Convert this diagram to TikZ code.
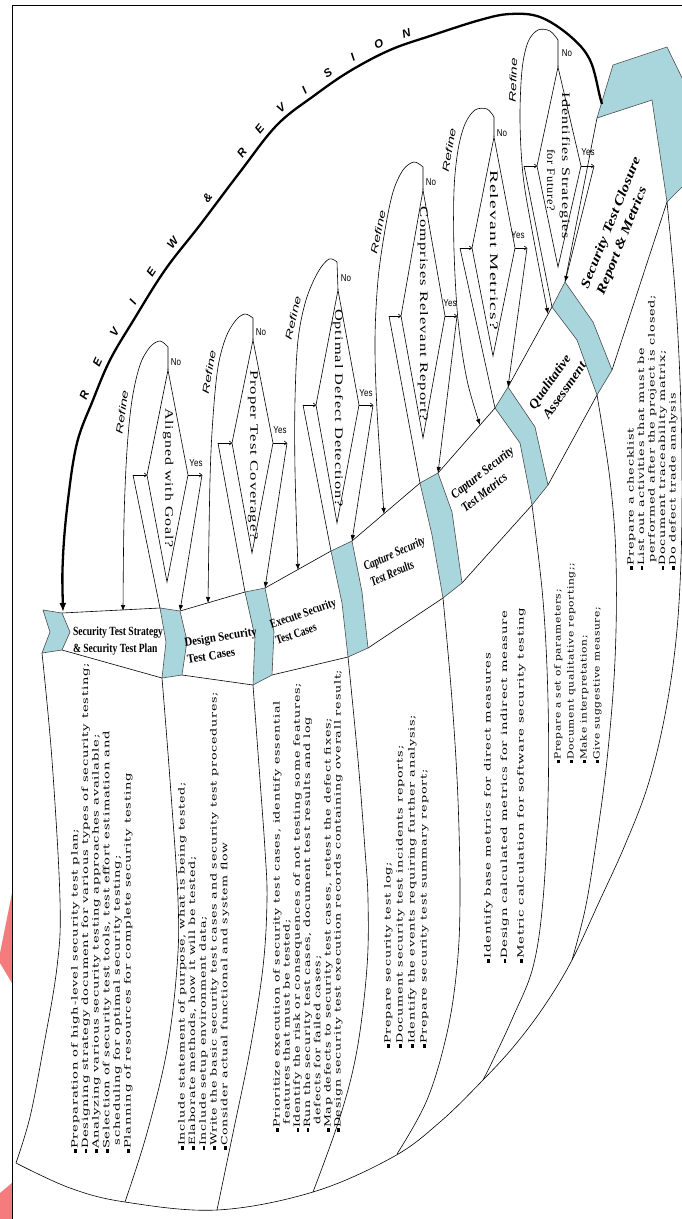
\documentclass[tikz,border=0pt]{standalone}
\usepackage{fontspec}
\usepackage{graphicx}
\setmainfont{Liberation Serif}
\newfontfamily\pfont[LetterSpace=6]{DejaVu Serif}
\newfontfamily\dfont[LetterSpace=6]{Liberation Serif}
\newfontfamily\sfont{Liberation Sans}
\usetikzlibrary{arrows.meta,decorations.markings}
\definecolor{chevblue}{HTML}{A8D6DC}
\definecolor{pinkmark}{HTML}{F47C7C}
\newcommand\bu{\raisebox{0.7pt}{\rule{2.6pt}{2.6pt}}}
\newcommand\panelbox[3]{\resizebox{#1}{\height}{\pfont\fontsize{8.6}{#2}\selectfont\begin{tabular}[t]{@{}l@{}}#3\end{tabular}}}
\newcommand\dtext[2]{\resizebox{#1}{\height}{\dfont\fontsize{11.5}{11.5}\selectfont #2}}
\newcommand\btext[4]{\resizebox{#1}{\height}{\rmfamily\bfseries#2\fontsize{#3}{17}\selectfont\begin{tabular}{@{}l@{}}#4\end{tabular}}}
\newcommand\reftext{\resizebox{44pt}{\height}{\sfont\itshape\fontsize{9.5}{9.5}\selectfont Refine}}
\newcommand\yn[1]{\scalebox{0.8}[1]{\sfont\fontsize{10}{10}\selectfont #1}}
\begin{document}
\begin{tikzpicture}[x=1pt,y=-1pt,
  ln/.style={draw=black, line width=0.6pt},
  chev/.style={fill=chevblue, draw=black!70, line width=0.6pt, line join=round},
  tip/.style={-{Latex[length=6pt,width=4.5pt]}},
  stip/.style={-{To[length=3pt,width=4.5pt]}},
  rv/.style={inner sep=0pt, font=\sfont\bfseries\itshape\fontsize{11.5}{11.5}\selectfont},
  lbl/.style={inner sep=0pt}]
\useasboundingbox (0,0) rectangle (682,1219);
\fill[white] (0,0) rectangle (682,1219);
% side marks and frame
\fill[pinkmark] (12,893) -- (0,953) -- (0,963) -- (12,983) -- cycle;
\fill[pinkmark] (12,1183) -- (0,1193) -- (0,1219) -- (12,1219) -- cycle;
\draw[line width=0.8pt] (12,1219) -- (12,5) -- (682,5);

% chevron corner coordinates
\coordinate (ch1bl) at (42,653);
\coordinate (ch2tl) at (160,608); \coordinate (ch2tr) at (180,611); \coordinate (ch2bl) at (162,678);
\coordinate (ch3tl) at (245,592); \coordinate (ch3tr) at (265,588); \coordinate (ch3bl) at (253,685);
\coordinate (ch4tl) at (331,551); \coordinate (ch4tr) at (352,541); \coordinate (ch4bl) at (348,657);
\coordinate (ch5tl) at (420,483); \coordinate (ch5tr) at (438,473); \coordinate (ch5bl) at (443,598);
\coordinate (ch6tl) at (495,408); \coordinate (ch6tr) at (508,387); \coordinate (ch6bl) at (532,505);
\coordinate (ch7tl) at (552,307); \coordinate (ch7tr) at (565,282); \coordinate (ch7bl) at (597,395);
\coordinate (fnb) at (667,202);

% panel separators
\draw[ln] plot[smooth, tension=0.6] coordinates {(ch1bl) (52,760) (60,900) (57,967) (43,1050) (30,1117) (16,1163)};
\draw[ln] plot[smooth, tension=0.6] coordinates {(16,1163) (70,1188) (125,1202) (217,1210) (313,1192) (393,1157) (440,1122) (483,1080) (515,1045) (545,1005) (572,960) (600,900) (625,845) (648,785) (665,715) (676,640) (681,560) (682,470) (680,380) (675,290) (fnb)};
\draw[ln] plot[smooth, tension=0.6] coordinates {(ch2bl) (170,780) (178,900) (177,967) (167,1050) (147,1133) (125,1202)};
\draw[ln] plot[smooth, tension=0.6] coordinates {(ch3bl) (260,780) (265,850) (267,900) (263,967) (250,1050) (233,1133) (217,1210)};
\draw[ln] plot[smooth, tension=0.6] coordinates {(ch4bl) (358,760) (365,850) (368,900) (367,967) (357,1050) (340,1117) (313,1192)};
\draw[ln] plot[smooth, tension=0.6] coordinates {(ch5bl) (452,700) (458,800) (460,900) (457,967) (447,1033) (427,1100) (397,1154)};
\draw[ln] plot[smooth, tension=0.6] coordinates {(ch6bl) (543,600) (548,700) (548,800) (543,900) (533,967) (513,1017) (493,1060) (483,1080)};
\draw[ln] plot[smooth, tension=0.6] coordinates {(ch7bl) (610,480) (616,560) (615,660) (607,760) (595,850) (585,910) (572,960)};

% band edges
\draw[ln] (62,613) -- (ch2tl); \draw[ln] (ch2tr) -- (ch3tl); \draw[ln] (ch3tr) -- (ch4tl);
\draw[ln] (ch4tr) -- (ch5tl); \draw[ln] (ch5tr) -- (ch6tl); \draw[ln] (ch6tr) -- (ch7tl);
\draw[ln] (ch7tr) -- (597,118);
\draw[ln] (62,650) -- (ch2bl); \draw[ln] (182,675) -- (ch3bl); \draw[ln] (272,675) -- (ch4bl);
\draw[ln] (368,648) -- (ch5bl); \draw[ln] (462,583) -- (ch6bl); \draw[ln] (548,485) -- (ch7bl);
\draw[ln] (612,370) -- (fnb);

% chevrons
\draw[chev] (43,610) -- (62,613) -- (70,632) -- (62,650) -- (ch1bl) -- (50,632) -- cycle;
\draw[chev] (ch2tl) -- (ch2tr) -- (187,641) -- (182,675) -- (ch2bl) -- (166,642) -- cycle;
\draw[chev] (ch3tl) -- (ch3tr) -- (274,632) -- (272,675) -- (ch3bl) -- (255,637) -- cycle;
\draw[chev] (ch4tl) -- (ch4tr) -- (362,592) -- (368,648) -- (ch4bl) -- (342,603) -- cycle;
\draw[chev] (ch5tl) -- (ch5tr) -- (452,512) -- (462,583) -- (ch5bl) -- (432,535) -- cycle;
\draw[chev] (ch6tl) -- (ch6tr) -- (535,427) -- (548,485) -- (ch6bl) -- (520,443) -- cycle;
\draw[chev] (ch7tl) -- (ch7tr) -- (593,322) -- (612,370) -- (ch7bl) -- (577,340) -- cycle;
\draw[chev] (597,118) -- (613,65) -- (667,47) -- (705,125) -- (705,170) -- (682,187) -- (fnb) -- (652,100) -- cycle;

% ---- decision loops ----
% loop 1
\coordinate (d1T) at (168,370); \coordinate (d1R) at (188,475); \coordinate (d1B) at (167,582); \coordinate (d1L) at (147,475);
\coordinate (d1S) at (168,347); \coordinate (d1I) at (133,475); \coordinate (d1Y) at (202,475);
\draw[ln] (d1T) -- (d1R) -- (d1B) -- (d1L) -- cycle;
\draw[ln, tip] (d1T) -- plot[smooth, tension=0.55] coordinates {(d1S) (160,341) (150,347) (140,365) (132,400) (127,450) (124,520) (123,611)};
\draw[ln] (ch2tl) -- (d1I); \draw[ln, stip] (d1I) -- (d1L);
\draw[ln, stip] (d1R) -- (d1Y); \draw[ln, tip] (d1Y) -- (ch2tr);
% loop 2
\coordinate (d2T) at (253,340); \coordinate (d2R) at (273,443); \coordinate (d2B) at (252,553); \coordinate (d2L) at (232,443);
\coordinate (d2S) at (253,318); \coordinate (d2I) at (218,443); \coordinate (d2Y) at (287,443);
\draw[ln] (d2T) -- (d2R) -- (d2B) -- (d2L) -- cycle;
\draw[ln, tip] (d2T) -- plot[smooth, tension=0.55] coordinates {(d2S) (245,314) (236,320) (226,337) (218,367) (213,417) (210,480) (208,603)};
\draw[ln] (ch3tl) -- (d2I); \draw[ln, stip] (d2I) -- (d2L);
\draw[ln, stip] (d2R) -- (d2Y); \draw[ln, tip] (d2Y) -- (ch3tr);
% loop 3
\coordinate (d3T) at (338,290); \coordinate (d3R) at (359,405); \coordinate (d3B) at (337,523); \coordinate (d3L) at (316,405);
\coordinate (d3S) at (337,262); \coordinate (d3I) at (303,405); \coordinate (d3Y) at (373,405);
\draw[ln] (d3T) -- (d3R) -- (d3B) -- (d3L) -- cycle;
\draw[ln, tip] (d3T) -- plot[smooth, tension=0.55] coordinates {(d3S) (329,259) (318,272) (306,300) (298,340) (295,400) (295,470) (298,570)};
\draw[ln] (ch4tl) -- (d3I); \draw[ln, stip] (d3I) -- (d3L);
\draw[ln, stip] (d3R) -- (d3Y); \draw[ln, tip] (d3Y) -- (ch4tr);
% loop 4
\coordinate (d4T) at (423,190); \coordinate (d4R) at (445,316); \coordinate (d4B) at (423,438); \coordinate (d4L) at (401,316);
\coordinate (d4S) at (423,167); \coordinate (d4I) at (389,316); \coordinate (d4Y) at (457,316);
\draw[ln] (d4T) -- (d4R) -- (d4B) -- (d4L) -- cycle;
\draw[ln, tip] (d4T) -- plot[smooth, tension=0.55] coordinates {(d4S) (414,162) (403,170) (393,192) (385,230) (378,280) (375,340) (377,410) (384,514)};
\draw[ln] (ch5tl) -- (d4I); \draw[ln, stip] (d4I) -- (d4L);
\draw[ln, stip] (d4R) -- (d4Y); \draw[ln, tip] (d4Y) -- (ch5tr);
% loop 5
\coordinate (d5T) at (494,137); \coordinate (d5R) at (515,248); \coordinate (d5B) at (493,356); \coordinate (d5L) at (472,248);
\coordinate (d5S) at (494,117); \coordinate (d5I) at (460,248); \coordinate (d5Y) at (527,248);
\draw[ln] (d5T) -- (d5R) -- (d5B) -- (d5L) -- cycle;
\draw[ln, tip] (d5T) -- plot[smooth, tension=0.55] coordinates {(d5S) (487,109) (475,110) (465,124) (458,150) (454,190) (454,250) (458,320) (467,380) (480,425)};
\draw[ln] (ch6tl) -- (d5I); \draw[ln, stip] (d5I) -- (d5L);
\draw[ln, stip] (d5R) -- (d5Y); \draw[ln, tip] (d5Y) -- (ch6tr);
% loop 6
\coordinate (d6T) at (558,67); \coordinate (d6R) at (581,166); \coordinate (d6B) at (558,267); \coordinate (d6L) at (537,166);
\coordinate (d6S) at (558,40); \coordinate (d6I) at (524,166); \coordinate (d6Y) at (594,166);
\draw[ln] (d6T) -- (d6R) -- (d6B) -- (d6L) -- cycle;
\draw[ln, tip] (d6T) -- plot[smooth, tension=0.55] coordinates {(d6S) (550,31) (538,30) (528,42) (522,70) (520,120) (523,175) (532,230) (548,314)};
\draw[ln] (ch7tl) -- (d6I); \draw[ln, stip] (d6I) -- (d6L);
\draw[ln, stip] (d6R) -- (d6Y); \draw[ln, tip] (d6Y) -- (ch7tr);

% diamond texts
\node[lbl, rotate=-90] (d1x) at (168,478) {\dtext{140pt}{Aligned with Goal?}};
\node[lbl, rotate=-90] (d2x) at (253,455) {\dtext{170pt}{Proper Test Coverage?}};
\node[lbl, rotate=-90] (d3x) at (338,408) {\dtext{198pt}{Optimal Defect Detection?}};
\node[lbl, rotate=-90] (d4x) at (423,314) {\dtext{214pt}{Comprises Relevant Report?}};
\node[lbl, rotate=-90] (d5x) at (494,250) {\dtext{160pt}{Relevant Metrics?}};
\node[lbl, rotate=-90] (d6x) at (565,166) {\dtext{146pt}{Identifies Strategies}};
\node[lbl, rotate=-90] (d6y) at (551,180) {\dtext{62pt}{for Future?}};

% Refine / No / Yes labels
\node[lbl, rotate=82] (r1) at (122,412) {\reftext};
\node[lbl, rotate=80] (r2) at (209,372) {\reftext};
\node[lbl, rotate=77] (r3) at (293,318) {\reftext};
\node[lbl, rotate=78] (r4) at (378,232) {\reftext};
\node[lbl, rotate=80] (r5) at (449,150) {\reftext};
\node[lbl, rotate=88] (r6) at (513,80) {\reftext};
\node[lbl] (n1) at (176,362) {\yn{No}};
\node[lbl] (n2) at (261,332) {\yn{No}};
\node[lbl] (n3) at (346,278) {\yn{No}};
\node[lbl] (n4) at (431,182) {\yn{No}};
\node[lbl] (n5) at (502,133) {\yn{No}};
\node[lbl] (n6) at (567,53) {\yn{No}};
\node[lbl] (y1) at (196,463) {\yn{Yes}};
\node[lbl] (y2) at (280,430) {\yn{Yes}};
\node[lbl] (y3) at (366,393) {\yn{Yes}};
\node[lbl] (y4) at (450,303) {\yn{Yes}};
\node[lbl] (y5) at (518,235) {\yn{Yes}};
\node[lbl] (y6) at (588,152) {\yn{Yes}};

% stage labels
\node[lbl] (b1) at (118,641) {\btext{90pt}{}{12.5}{Security Test Strategy\\\& Security Test Plan}};
\node[lbl, rotate=9] (b2) at (222,646) {\btext{73pt}{}{12.5}{Design Security\\Test Cases}};
\node[lbl, rotate=19] (b3) at (306,622) {\btext{69pt}{}{12.5}{Execute Security\\Test Cases}};
\node[lbl, rotate=24] (b4) at (398,562) {\btext{66pt}{\itshape}{13}{Capture Security\\Test Results}};
\node[lbl, rotate=38] (b5) at (488,480) {\btext{76pt}{\itshape}{13}{Capture Security\\Test Metrics}};
\node[lbl, rotate=55] (b6) at (558,386) {\btext{66pt}{\itshape}{13}{Qualitative\\Assessment}};
\node[lbl, rotate=68] (b7) at (619,226) {\btext{140pt}{\itshape}{13}{Security Test Closure\\Report \& Metrics}};

% panel texts
\node[lbl, rotate=90, anchor=base west] (p1) at (77.5,1153) {\panelbox{490pt}{10.6pt}{%
\bu Preparation of high-level security test plan;\\
\bu Designing strategy document for various types of security testing;\\
\bu Analyzing various security testing approaches available;\\
\bu Selection of security test tools, test effort estimation and\\
\hspace{5pt}scheduling for optimal security testing;\\
\bu Planning of resources for complete security testing}};
\node[lbl, rotate=90, anchor=base west] (p2) at (184.5,1150) {\panelbox{458pt}{10.7pt}{%
\bu Include statement of purpose, what is being tested;\\
\bu Elaborate methods, how it will be tested;\\
\bu Include setup environment data;\\
\bu Write the basic security test cases and security test procedures;\\
\bu Consider actual functional and system flow}};
\node[lbl, rotate=90, anchor=base west] (p3) at (279.5,1132) {\panelbox{462pt}{10.2pt}{%
\bu Prioritize execution of security test cases, identify essential\\
\hspace{5pt}features that must be tested;\\
\bu Identify the risk or consequences of not testing some features;\\
\bu Run the security test cases, document test results and log\\
\hspace{5pt}defects for failed cases;\\
\bu Map defects to security test cases, retest the defect fixes;\\
\bu Design security test execution records containing overall result;}};
\node[lbl, rotate=90, anchor=base west] (p4) at (390.5,1048) {\panelbox{333pt}{12pt}{%
\bu Prepare security test log;\\
\bu Document security test incidents reports;\\
\bu Identify the events requiring further analysis;\\
\bu Prepare security test summary report;}};
\node[lbl, rotate=90, anchor=base west] (p5) at (490.5,963) {\panelbox{355pt}{16.5pt}{%
\bu Identify base metrics for direct measures\\
\bu Design calculated metrics for indirect measure\\
\bu Metric calculation for software security testing}};
\node[lbl, rotate=90, anchor=base west] (p6) at (560.5,763) {\panelbox{200pt}{13pt}{%
\bu Prepare a set of parameters;\\
\bu Document qualitative reporting;;\\
\bu Make interpretation;\\
\bu Give suggestive measure;}};
\node[lbl, rotate=90, anchor=base west] (p7) at (633.5,570) {\panelbox{275pt}{10.5pt}{%
\bu Prepare a checklist\\
\bu List out activities that must be\\
\hspace{5pt}performed after the project is closed;\\
\bu Document traceability matrix;\\
\bu Do defect trade analysis}};

% review and revision arc
\draw[line width=2.3pt, {Latex[length=9pt,width=7pt]}-,
  postaction={decorate, decoration={markings,
    mark=at position 0.228 with {\node[rv, transform shape, above=5pt] (a1) {R};},
    mark=at position 0.264 with {\node[rv, transform shape, above=5pt] (a2) {E};},
    mark=at position 0.300 with {\node[rv, transform shape, above=5pt] (a3) {V};},
    mark=at position 0.337 with {\node[rv, transform shape, above=5pt] (a4) {I};},
    mark=at position 0.373 with {\node[rv, transform shape, above=5pt] (a5) {E};},
    mark=at position 0.410 with {\node[rv, transform shape, above=5pt] (a6) {W};},
    mark=at position 0.470 with {\node[rv, transform shape, above=5pt] (a7) {\&};},
    mark=at position 0.530 with {\node[rv, transform shape, above=5pt] (a8) {R};},
    mark=at position 0.560 with {\node[rv, transform shape, above=5pt] (a9) {E};},
    mark=at position 0.590 with {\node[rv, transform shape, above=5pt] (a10) {V};},
    mark=at position 0.620 with {\node[rv, transform shape, above=5pt] (a11) {I};},
    mark=at position 0.650 with {\node[rv, transform shape, above=5pt] (a12) {S};},
    mark=at position 0.680 with {\node[rv, transform shape, above=5pt] (a13) {I};},
    mark=at position 0.710 with {\node[rv, transform shape, above=5pt] (a14) {O};},
    mark=at position 0.740 with {\node[rv, transform shape, above=5pt] (a15) {N};}}}]
  plot[smooth, tension=0.6] coordinates {(63,612) (63,557) (68,500) (77,443) (93,400) (110,360) (133,321) (165,270) (200,225) (240,172) (277,125) (315,95) (350,71) (390,50) (430,36) (480,20) (510,14) (540,17) (570,36) (590,60) (600,97) (602,104)};
\end{tikzpicture}
\end{document}
